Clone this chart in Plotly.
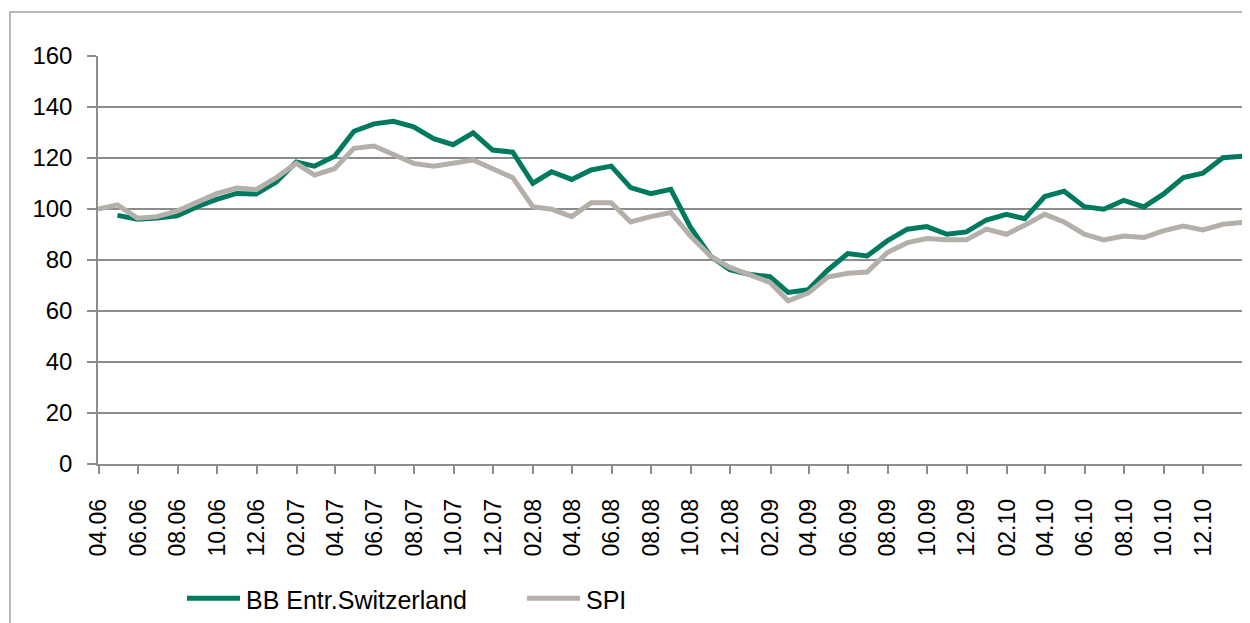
import pandas as pd
import plotly.graph_objects as go

# ---- data (month-end index levels) ----
bb_dates = pd.date_range("2006-04-30", "2011-01-31", freq="ME")
spi_dates = [pd.Timestamp("2006-03-31")] + list(bb_dates)

bb_values = [
    97.5, 96.0, 96.5, 97.3, 100.9, 103.8, 106.1, 105.9, 110.6,            # 04.06-12.06
    118.4, 116.8, 120.7, 130.5, 133.4, 134.4, 132.2, 127.6, 125.2, 129.9, 123.1, 122.3,  # 2007
    110.1, 114.6, 111.6, 115.3, 116.8, 108.4, 106.0, 107.7, 93.0, 81.6, 76.2, 74.3,      # 2008
    73.5, 67.3, 68.3, 76.0, 82.5, 81.6, 87.5, 92.1, 93.1, 90.1, 91.0, 95.7,              # 2009
    97.9, 96.2, 104.9, 107.0, 100.9, 99.9, 103.4, 100.8, 105.8, 112.3, 114.0, 120.1,     # 2010
    120.7,                                                                               # 01.11
]
spi_values = [
    100.0,
    101.6, 96.4, 97.0, 99.2, 102.7, 106.0, 108.2, 107.6, 112.3,
    117.9, 113.3, 115.8, 123.8, 124.7, 121.4, 117.9, 116.8, 117.9, 119.2, 115.8, 112.3,
    100.9, 99.9, 97.0, 102.5, 102.5, 94.9, 97.0, 98.6, 89.5, 81.6, 77.1, 74.3,
    71.2, 64.0, 67.0, 73.3, 74.8, 75.3, 82.9, 86.8, 88.4, 87.9, 87.9, 92.1,
    90.1, 93.6, 97.9, 94.9, 90.1, 87.9, 89.4, 88.8, 91.4, 93.3, 91.8, 94.0,
    94.7,
]
series_names = ["BB Entr.Switzerland", "SPI"]
series_colors = ["#007a5e", "#b5afaa"]
y_ticks = [0, 20, 40, 60, 80, 100, 120, 140, 160]

FONT = "Liberation Sans, Arial, sans-serif"
FS = 24
W, H = 1250, 623
OFF = 8  # the page body adds an 8px margin; positions below are page pixels
L, T = 98 - OFF, 56 - OFF
R = W - (1243 - OFF)
B = H - (464.5 - OFF)
PW, PH = W - L - R, H - T - B


def px_x(p):
    return (p - OFF - L) / PW


def px_y(p):
    return (H - B - (p - OFF)) / PH


fig = go.Figure()
fig.add_trace(go.Scatter(x=bb_dates, y=bb_values, mode="lines", name=series_names[0],
                         line=dict(color=series_colors[0], width=5), showlegend=False))
fig.add_trace(go.Scatter(x=spi_dates, y=spi_values, mode="lines", name=series_names[1],
                         line=dict(color=series_colors[1], width=5), showlegend=False))

# manual legend
legend_items = [(187, 240, 244), (527, 580, 584)]
shapes = []
annotations = []
for (x0, x1, xt), name, col in zip(legend_items, series_names, series_colors):
    shapes.append(dict(type="line", xref="paper", yref="paper",
                       x0=px_x(x0), x1=px_x(x1), y0=px_y(599), y1=px_y(599),
                       line=dict(color=col, width=5)))
    annotations.append(dict(text=name, xref="paper", yref="paper",
                            x=px_x(xt), y=px_y(601), xanchor="left", yanchor="middle",
                            showarrow=False, font=dict(size=25, color="black", family=FONT)))

# outer chart frame
shapes.append(dict(type="rect", xref="paper", yref="paper",
                   x0=px_x(10), x1=px_x(1275), y0=px_y(12), y1=px_y(660),
                   line=dict(color="#a0a0a0", width=1.5), layer="below"))

fig.update_layout(
    width=W, height=H,
    margin=dict(l=L, r=R, t=T, b=B, pad=0, autoexpand=False),
    paper_bgcolor="white", plot_bgcolor="white",
    font=dict(family=FONT, size=FS, color="black"),
    shapes=shapes, annotations=annotations,
    xaxis=dict(
        type="date", range=["2006-03-31", "2011-01-31"],
        tick0="2006-04-01", dtick="M2", tickformat="%m.%y", tickangle=-90,
        ticks="outside", ticklen=8, tickcolor="#8c8c8c", tickwidth=1.5,
        showline=True, linecolor="#8c8c8c", linewidth=1.5,
        showgrid=False, zeroline=False, ticklabelstandoff=16, automargin=False,
        tickfont=dict(size=23, family=FONT, color="black"),
    ),
    yaxis=dict(
        range=[0, 160], tickvals=y_ticks,
        ticks="outside", ticklen=9, tickcolor="#8c8c8c", tickwidth=1.5,
        showline=True, linecolor="#8c8c8c", linewidth=1.5,
        showgrid=True, gridcolor="#8c8c8c", gridwidth=1.5, zeroline=False,
        ticklabelstandoff=10, automargin=False,
        tickfont=dict(size=FS, family=FONT, color="black"),
    ),
)

fig.write_html("out.html")
